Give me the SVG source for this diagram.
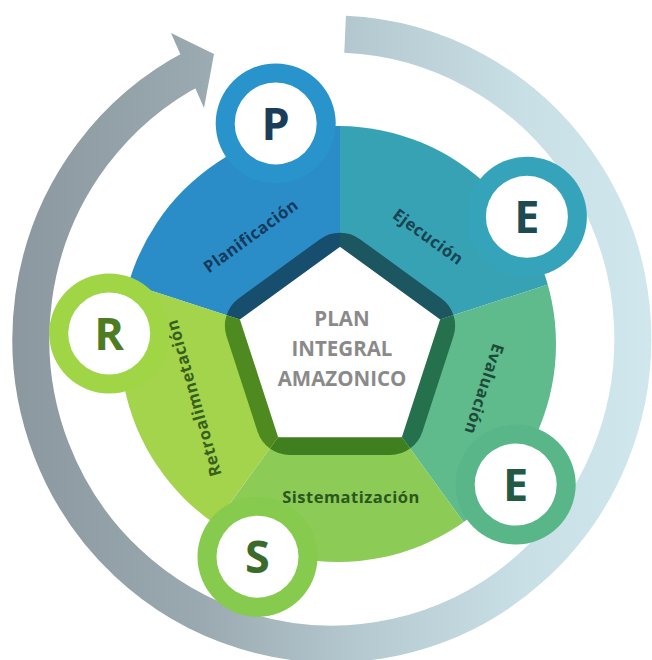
<svg xmlns="http://www.w3.org/2000/svg" width="652" height="660" viewBox="0 0 652 660">
<defs>
<style>
.lbl{font-family:"Open Sans","Liberation Sans",sans-serif;font-weight:700;font-size:16.5px;letter-spacing:0.5px;text-anchor:middle}
.let{font-family:"Open Sans","Liberation Sans",sans-serif;font-weight:700;font-size:45px;text-anchor:middle}
.ctr{font-family:"Open Sans","Liberation Sans",sans-serif;font-weight:700;font-size:20.5px;text-anchor:middle;fill:#8a8a8a}
</style>
<linearGradient id="ringGrad" gradientUnits="userSpaceOnUse" x1="0" y1="0" x2="652" y2="0">
<stop offset="0" stop-color="#8a979f"/>
<stop offset="0.3" stop-color="#9aa8af"/>
<stop offset="0.55" stop-color="#b5c9d0"/>
<stop offset="0.8" stop-color="#c8dfe5"/>
<stop offset="1" stop-color="#cfe7ed"/>
</linearGradient>
<clipPath id="wPlan"><polygon points="340,352 -135.5,197.5 340,-148"/></clipPath>
<clipPath id="wEjec"><polygon points="340,352 340,-148 815.5,197.5"/></clipPath>
<clipPath id="wEval"><polygon points="340,352 815.5,197.5 633.9,756.5"/></clipPath>
<clipPath id="wSist"><polygon points="340,352 633.9,756.5 46.1,756.5"/></clipPath>
<clipPath id="wRetr"><polygon points="340,352 46.1,756.5 -135.5,197.5"/></clipPath>
<path id="outerPent" d="M359.98,239.2 L441.1,298.13 A34,34 0 0 1 453.46,336.15 L422.47,431.51 A34,34 0 0 1 390.13,455 L289.87,455 A34,34 0 0 1 257.53,431.51 L226.54,336.15 A34,34 0 0 1 238.9,298.13 L320.02,239.2 A34,34 0 0 1 359.98,239.2 Z"/>
</defs>
<rect width="652" height="660" fill="#ffffff"/>

<g id="connectors">
<path id="cycle-arrow" d="M345.1,34.3 A301,305 0 1 1 195.3,67.2" fill="none" stroke="url(#ringGrad)" stroke-width="37"/>
<polygon id="cycle-arrowhead" points="171,33 214,54 204,108" fill="url(#ringGrad)"/>
</g>

<g id="segment-planificacion" clip-path="url(#wPlan)">
<circle cx="338" cy="344" r="218" fill="#2a8dc8"/>
<use href="#outerPent" fill="#174e6e"/>
</g>
<g id="segment-ejecucion" clip-path="url(#wEjec)">
<circle cx="338" cy="344" r="218" fill="#38a2b5"/>
<use href="#outerPent" fill="#1c5660"/>
</g>
<g id="segment-evaluacion" clip-path="url(#wEval)">
<circle cx="338" cy="344" r="218" fill="#5fba8c"/>
<use href="#outerPent" fill="#25704d"/>
</g>
<g id="segment-sistematizacion" clip-path="url(#wSist)">
<circle cx="338" cy="344" r="218" fill="#8dcb57"/>
<use href="#outerPent" fill="#407f1f"/>
</g>
<g id="segment-retroalimentacion" clip-path="url(#wRetr)">
<circle cx="338" cy="344" r="218" fill="#a4d34c"/>
<use href="#outerPent" fill="#4e8a1f"/>
</g>

<g id="center">
<polygon points="340,248 438.91,319.86 401.13,436.14 278.87,436.14 241.09,319.86" fill="#ffffff" stroke="#ffffff" stroke-width="2" stroke-linejoin="round"/>
<text class="ctr" x="342" y="326">PLAN</text>
<text class="ctr" x="342" y="356">INTEGRAL</text>
<text class="ctr" x="342" y="386">AMAZONICO</text>
</g>

<g id="labels">
<text class="lbl" fill="#153a5c" transform="translate(251,236) rotate(-36)" y="5.5">Planificación</text>
<text class="lbl" fill="#18434f" transform="translate(428,237) rotate(36)" y="5.5">Ejecución</text>
<text class="lbl" fill="#1d4a39" transform="translate(484,389) rotate(108)" y="5.5">Evaluación</text>
<text class="lbl" fill="#2b561e" x="351" y="503">Sistematización</text>
<text class="lbl" fill="#375f1d" transform="translate(194,398) rotate(-106)" y="5.5">Retroalimnetación</text>
</g>

<g id="node-P">
<circle cx="275.7" cy="123.4" r="60" fill="#2993cc"/>
<circle cx="275.7" cy="123.4" r="41" fill="#ffffff"/>
<text class="let" fill="#1b3d5a" x="275.7" y="139.5">P</text>
</g>
<g id="node-E1">
<circle cx="526.9" cy="216.8" r="60" fill="#35a4bb"/>
<circle cx="526.9" cy="216.8" r="41" fill="#ffffff"/>
<text class="let" fill="#1e4a52" x="526.9" y="232.9">E</text>
</g>
<g id="node-E2">
<circle cx="515.7" cy="484.6" r="60" fill="#58b689"/>
<circle cx="515.7" cy="484.6" r="41" fill="#ffffff"/>
<text class="let" fill="#245a44" x="515.7" y="500.7">E</text>
</g>
<g id="node-S">
<circle cx="257.5" cy="556.7" r="60" fill="#86ca4e"/>
<circle cx="257.5" cy="556.7" r="41" fill="#ffffff"/>
<text class="let" fill="#3b6b2a" x="257.5" y="572.8">S</text>
</g>
<g id="node-R">
<circle cx="109.2" cy="333.5" r="60" fill="#a0d546"/>
<circle cx="109.2" cy="333.5" r="41" fill="#ffffff"/>
<text class="let" fill="#4e7c23" x="109.2" y="349.6">R</text>
</g>
</svg>
